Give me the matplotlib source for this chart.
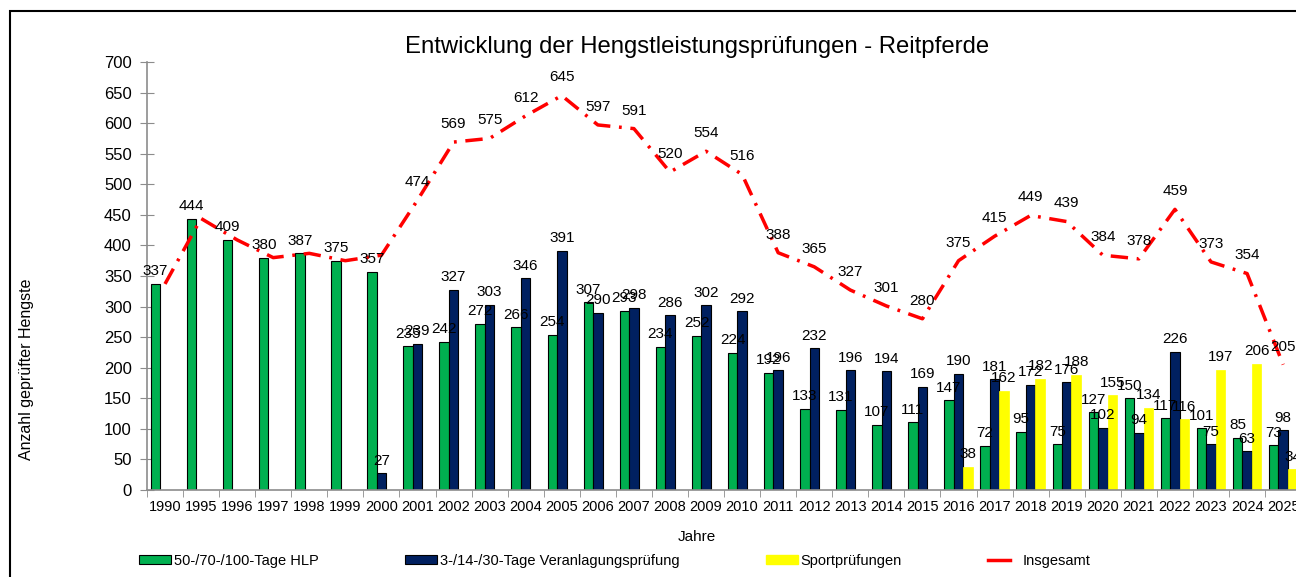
import numpy as np
import matplotlib.pyplot as plt
from matplotlib.patches import Rectangle, Patch
from matplotlib.lines import Line2D
from matplotlib.legend_handler import HandlerLine2D

plt.rcParams['font.family'] = ['Liberation Sans', 'DejaVu Sans']

# data
years = ['1990', '1995', '1996', '1997', '1998', '1999', '2000', '2001', '2002', '2003',
         '2004', '2005', '2006', '2007', '2008', '2009', '2010', '2011', '2012', '2013',
         '2014', '2015', '2016', '2017', '2018', '2019', '2020', '2021', '2022', '2023',
         '2024', '2025']
hlp = [337, 444, 409, 380, 387, 375, 357, 235, 242, 272,
       266, 254, 307, 293, 234, 252, 224, 192, 133, 131,
       107, 111, 147, 72, 95, 75, 127, 150, 117, 101,
       85, 73]
veranlagung = [np.nan] * 6 + [27, 239, 327, 303,
                              346, 391, 290, 298, 286, 302, 292, 196, 232, 196,
                              194, 169, 190, 181, 172, 176, 102, 94, 226, 75,
                              63, 98]
sport = [np.nan] * 22 + [38, 162, 182, 188, 155, 134, 116, 197, 206, 34]
insgesamt = [337, 444, 409, 380, 387, 375, 384, 474, 569, 575,
             612, 645, 597, 591, 520, 554, 516, 388, 365, 327,
             301, 280, 375, 415, 449, 439, 384, 378, 459, 373,
             354, 205]

green = '#00B050'
navy = '#002060'
yellow = '#FFFF00'
red = '#FF0000'
grey = '#8C8C8C'


class ShortLine(HandlerLine2D):
    # legend line shorter than the patch handles
    def create_artists(self, legend, orig_handle, xdescent, ydescent, width, height,
                       fontsize, trans):
        return super().create_artists(legend, orig_handle, xdescent, ydescent,
                                      width * 0.7, height, fontsize, trans)


fig = plt.figure(figsize=(12.96, 5.77), dpi=100)
ax = fig.add_axes([0.1134, 0.1508, 0.8906, 0.7418])

x = np.arange(len(years))
w = 0.263

ax.bar(x - w, hlp, w, color=green, edgecolor='black', linewidth=0.8, zorder=2)
ax.bar(x, veranlagung, w, color=navy, edgecolor='black', linewidth=0.8, zorder=2)
ax.bar(x + w, sport, w, color=yellow, edgecolor=yellow, linewidth=0.5, zorder=2)
ax.plot(x, insgesamt, color=red, linewidth=2.5, dashes=(5, 2.5, 0.8, 2.5), zorder=3)

# value labels
lbl = dict(ha='center', va='bottom', fontsize=11, textcoords='offset points', zorder=4)
for i, v in enumerate(hlp):
    ax.annotate(str(v), (x[i] - w, v), xytext=(0, 4), **lbl)
for i, v in enumerate(veranlagung):
    if not np.isnan(v):
        ax.annotate(str(int(v)), (x[i], v), xytext=(0, 4), **lbl)
for i, v in enumerate(sport):
    if not np.isnan(v):
        ax.annotate(str(int(v)), (x[i] + w, v), xytext=(0, 4), **lbl)
for i, v in enumerate(insgesamt):
    if i > 6:
        ax.annotate(str(v), (x[i], v), xytext=(0, 8), **lbl)

ax.set_xlim(-0.5, len(years) - 0.5)
ax.set_ylim(0, 700)
ax.set_yticks(np.arange(0, 701, 50))
ax.set_xticks(x)
ax.set_xticklabels(years, fontsize=10.5)
ax.set_xticks(np.arange(-0.5, len(years), 1), minor=True)
ax.tick_params(axis='x', which='major', length=0, pad=7)
ax.tick_params(axis='x', which='minor', length=5, direction='out', color=grey)
ax.tick_params(axis='y', labelsize=12, length=10, direction='inout', color=grey, pad=6)
for s in ['top', 'right']:
    ax.spines[s].set_visible(False)
for s in ['left', 'bottom']:
    ax.spines[s].set_color(grey)
    ax.spines[s].set_linewidth(1.2)

fig.text(0.538, 0.9185, 'Entwicklung der Hengstleistungsprüfungen - Reitpferde',
         ha='center', va='center', fontsize=17.2)
fig.text(0.538, 0.0693, 'Jahre', ha='center', va='center', fontsize=11)
fig.text(0.0208, 0.3605, 'Anzahl geprüfter Hengste', rotation=90,
         ha='center', va='center', fontsize=11.5)

red_handle = Line2D([0], [0], color=red, linewidth=2.5)
handles = [Patch(facecolor=green, edgecolor='black', linewidth=0.8),
           Patch(facecolor=navy, edgecolor='black', linewidth=0.8),
           Patch(facecolor=yellow, edgecolor=yellow),
           red_handle]
labels = ['50-/70-/100-Tage HLP', '3-/14-/30-Tage Veranlagungsprüfung',
          'Sportprüfungen', 'Insgesamt']
fig.legend(handles, labels, loc='center left', bbox_to_anchor=(0.1073, 0.028),
           ncol=4, frameon=False, fontsize=10.5, borderaxespad=0, borderpad=0,
           handlelength=2.2, handleheight=0.55, handletextpad=0.2, columnspacing=5.9,
           handler_map={red_handle: ShortLine()})

fig.patches.append(Rectangle((0.0081, -0.1), 1.2, 1.081, fill=False, edgecolor='black',
                             linewidth=1.5, transform=fig.transFigure, figure=fig))

fig.savefig('out.png', dpi=100)
